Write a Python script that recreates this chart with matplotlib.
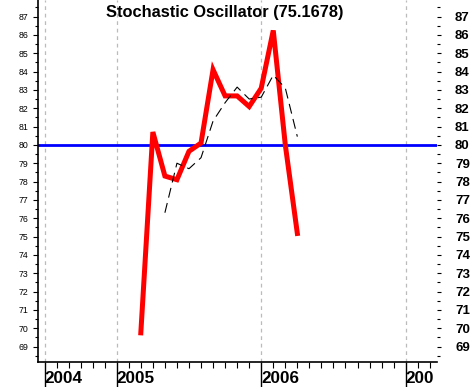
import matplotlib.pyplot as plt
from matplotlib.ticker import MultipleLocator

plt.rcParams['font.family'] = ['Liberation Sans', 'DejaVu Sans']

# Monate seit Jan 2005 (0 = Jan 2005)
k_months = list(range(2, 16))
k_values = [69.75, 80.7, 78.3, 78.1, 79.65, 80.1, 84.1, 82.67, 82.67, 82.09,
            83.09, 86.24, 80.0, 75.17]
d_months = list(range(4, 16))
d_values = [76.3, 79.0, 78.7, 79.3, 81.3, 82.3, 83.15, 82.5, 82.6, 83.8,
            83.1, 80.45]

year_pos = [-6, 0, 12, 24]
year_labels = ['2004', '2005', '2006', '200']
level = 80
y_ticks = list(range(69, 88))
title = 'Stochastic Oscillator (75.1678)'

fig = plt.figure(figsize=(4.74, 3.87), dpi=100)
ax = fig.add_axes([38 / 474, 25 / 387, 399 / 474, 362 / 387])
ax.set_xlim(-6.54, 26.6)
ax.set_ylim(68.16, 87.9)

# Gitterlinien an den Jahren
for x in year_pos:
    ax.axvline(x, color='#bbbbbb', linewidth=0.9, linestyle=(0, (3, 3)), zorder=1)

ax.axhline(level, color='#0000ff', linewidth=2.0, zorder=2)
ax.plot(k_months, k_values, color='#ff0000', linewidth=3.6,
        solid_joinstyle='miter', zorder=3)
ax.plot(d_months, d_values, color='black', linewidth=0.8,
        linestyle=(0, (9, 5)), zorder=4)

ax.text(0.469, 1 - 5 / 362, title, transform=ax.transAxes, ha='center',
        va='top', fontsize=11.8, fontweight='bold')

for s in ['top', 'right']:
    ax.spines[s].set_visible(False)
ax.spines['left'].set_linewidth(1.2)
ax.spines['bottom'].set_linewidth(1.2)

# y-Achse links
ax.set_yticks(y_ticks)
ax.yaxis.set_minor_locator(MultipleLocator(0.5))
ax.tick_params(axis='y', which='major', length=3.6, width=0.8, pad=3,
               labelsize=6.3)
ax.tick_params(axis='y', which='minor', length=2.2, width=0.8)

# y-Achse rechts
ax2 = ax.twinx()
ax2.set_ylim(ax.get_ylim())
for s in ax2.spines.values():
    s.set_visible(False)
ax2.set_yticks(y_ticks)
ax2.yaxis.set_minor_locator(MultipleLocator(0.5))
ax2.tick_params(axis='y', which='major', length=3, width=0.8, pad=10,
                labelsize=9.5)
ax2.tick_params(axis='y', which='minor', length=2.2, width=0.8)
for lab in ax2.get_yticklabels():
    lab.set_fontweight('bold')

# x-Achse
ax.set_xticks(year_pos)
ax.set_xticklabels(year_labels, fontweight='bold', fontsize=12.3, ha='left')
ax.xaxis.set_minor_locator(MultipleLocator(1))
ax.tick_params(axis='x', which='major', length=18, width=1.0, pad=-11.5)
ax.tick_params(axis='x', which='minor', length=4.3, width=0.8)

fig.savefig('out.png', dpi=100)
